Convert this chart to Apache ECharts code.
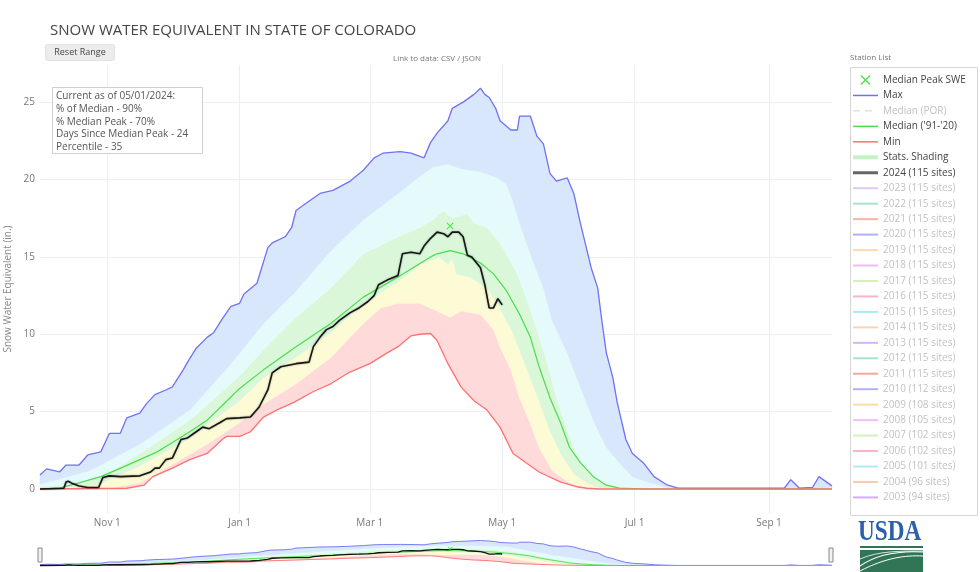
<!DOCTYPE html>
<html><head><meta charset="utf-8">
<script src="https://cdn.jsdelivr.net/npm/echarts@6/dist/echarts.min.js"></script>
<style>html,body{margin:0;padding:0;background:#fff}#c{width:980px;height:572px}</style>
</head><body><div id="c"></div>
<script>
// ---- axis ticks ----
const xTickDays = [31, 92, 152, 213, 274, 336];
const xTickLabels = ['Nov 1', 'Jan 1', 'Mar 1', 'May 1', 'Jul 1', 'Sep 1'];
const yTicks = [0, 5, 10, 15, 20, 25];

// ---- statistics (day index from Oct 1, SWE in inches) ----
const maxDays = [0,3,9,12,18,22,28,32,37,40,46,49,53,58,61,66,68,72,77,80,84,88,92,94,100,105,107,113,116,118,121,129,135,143,149,154,158,166,171,177,180,183,188,190,195,200,203,205,207,210,212,217,220,221,226,229,232,235,238,243,246,249,254,257,259,261,264,266,270,273,278,283,289,294,343,346,350,356,359,364,365];
const maxVals = [0.9,1.3,1.1,1.55,1.55,2.2,2.4,3.6,3.6,4.6,4.9,5.5,6.1,6.4,6.6,7.7,8.2,9.1,9.8,10.1,11.0,11.8,12.0,12.6,13.3,15.6,15.9,16.3,16.9,18.0,18.3,19.1,19.3,19.9,20.6,21.4,21.7,21.8,21.7,21.4,22.4,23.0,23.8,24.6,25.0,25.5,25.9,25.5,25.3,24.6,23.8,23.2,23.2,24.1,24.1,22.8,22.3,20.4,19.9,20.1,19.1,17.2,14.3,13.0,10.8,8.8,7.2,5.6,3.2,2.3,1.7,0.8,0.26,0.05,0.05,0.6,0.05,0.1,0.8,0.3,0.2];

const minDays = [0,40,48,52,61,69,77,84,86,92,97,103,109,117,126,134,142,152,160,165,171,175,180,183,188,194,200,206,212,218,224,230,240,248,252,258,365];
const minVals = [0,0.05,0.25,0.8,1.35,1.9,2.3,3.2,3.4,3.4,3.7,4.65,5.1,5.6,6.3,6.8,7.5,8.1,8.8,9.2,9.9,10.0,10.05,9.6,8.1,6.6,5.7,5.1,4.0,2.3,1.7,1.1,0.45,0.13,0.05,0,0];

const medDays = [0,9,18,28,38,46,54,61,69,77,84,92,103,118,134,149,165,180,183,189,195,203,209,215,221,226,230,235,240,244,249,255,261,267,280,365];
const medVals = [0,0.06,0.4,0.8,1.4,1.9,2.4,3.0,3.7,4.45,5.4,6.5,7.7,9.2,10.7,12.4,13.7,15.0,15.2,15.4,15.2,14.6,13.9,12.8,11.3,9.8,7.9,5.9,4.25,2.7,1.7,0.8,0.25,0.06,0,0];

const p10Days = [0,31,46,61,77,92,103,118,134,149,157,165,175,183,189,194,203,209,212,217,221,226,230,236,244,252,260,365];
const p10Vals = [0,0.05,0.4,1.6,2.9,4.3,5.5,6.8,8.5,10.7,11.7,12.0,12.0,11.5,11.1,11.5,11.3,10.3,9.2,7.7,5.9,4.25,2.7,1.2,0.4,0.05,0,0];

const p30Days = [0,27,46,69,92,103,118,134,149,165,175,184,188,190,192,198,206,212,218,224,230,235,240,246,252,258,265,365];
const p30Vals = [0,0.3,1.5,3.3,5.7,7.2,8.5,10.1,12.0,13.4,14.5,15.0,14.5,14.9,13.9,13.7,13.0,11.7,10.1,7.9,5.7,3.8,2.3,1.0,0.4,0.05,0,0];

const p70Days = [0,9,18,31,46,69,92,103,118,134,149,165,175,181,186,190,197,200,206,211,215,220,224,229,234,238,243,247,253,259,267,280,365];
const p70Vals = [0,0.1,0.3,1.0,2.3,4.45,7.3,9.0,11.1,13.0,15.2,16.3,16.9,17.4,18.0,17.5,17.8,17.2,16.9,16.1,15.2,13.9,12.4,10.3,8.1,5.9,3.8,2.3,1.1,0.45,0.13,0,0];

const p90Days = [0,23,46,69,88,103,118,134,149,165,174,181,188,194,203,211,215,218,221,227,232,236,243,249,255,261,267,273,281,289,300,365];
const p90Vals = [0.3,1.2,2.9,5.1,8.1,10.7,12.8,15.4,17.4,19.1,20.1,20.8,21.0,20.7,20.5,20.1,19.7,18.6,17.2,14.8,13.0,10.9,8.8,6.6,4.45,2.7,1.7,0.8,0.4,0.1,0,0];

// ---- water year 2024 ----
const wy24Days = [0,11,12,13,15,18,22,27,29,32,37,46,51,53,55,58,61,65,68,72,75,78,83,86,92,97,101,105,107,111,118,124,126,129,132,135,138,143,147,151,154,156,160,165,167,171,175,177,180,183,186,188,190,193,195,197,199,203,205,207,209,211,213];
const wy24Vals = [0,0.05,0.45,0.5,0.35,0.2,0.1,0.1,0.75,0.85,0.8,0.85,1.1,1.35,1.35,1.9,2.0,3.2,3.3,3.7,4.0,3.9,4.3,4.55,4.6,4.65,5.3,6.4,7.5,7.9,8.1,8.2,9.2,9.8,10.3,10.5,10.9,11.4,11.7,12.1,12.5,13.2,13.5,13.8,15.2,15.3,15.2,15.7,16.2,16.6,16.5,16.3,16.6,16.6,16.3,15.1,15.0,14.3,13.2,11.7,11.7,12.3,11.9];

const peakDays = [189];
const peakVals = [17.0];

// ---- legend entries for other years ----
const yearNames = ['2023 (115 sites)','2022 (115 sites)','2021 (115 sites)','2020 (115 sites)','2019 (115 sites)','2018 (115 sites)','2017 (115 sites)','2016 (115 sites)','2015 (115 sites)','2014 (115 sites)','2013 (115 sites)','2012 (115 sites)','2011 (115 sites)','2010 (112 sites)','2009 (108 sites)','2008 (105 sites)','2007 (102 sites)','2006 (102 sites)','2005 (101 sites)','2004 (96 sites)','2003 (94 sites)'];
const yearColors = ['#dcc8fa','#a8e2d2','#f8b4a6','#b0b0fa','#fadca6','#f4b8f4','#d2f2b8','#fab4c8','#a8eaf8','#fad2b4','#d2b4fa','#a8e4c6','#f8a898','#b0b0fa','#fadca6','#f4bcf4','#d4f2bc','#fab4c4','#acecf8','#facaac','#d4acfa'];

const pts = (d, v) => d.map((x, i) => [x, v[i]]);
const bands = [
  {lo: pts(minDays, minVals), hi: pts(p10Days, p10Vals), color: '#ffdada'},
  {lo: pts(p10Days, p10Vals), hi: pts(p30Days, p30Vals), color: '#fdfad6'},
  {lo: pts(p30Days, p30Vals), hi: pts(p70Days, p70Vals), color: '#daf7da'},
  {lo: pts(p70Days, p70Vals), hi: pts(p90Days, p90Vals), color: '#e5fbfb'},
  {lo: pts(p90Days, p90Vals), hi: pts(maxDays, maxVals), color: '#d8e7fb'}
];

const X_PATH = 'path://M1,0 L5,4 L9,0 L10,1 L6,5 L10,9 L9,10 L5,6 L1,10 L0,9 L4,5 L0,1 Z';
// legend line icons (box 25x10, line centred)
const lineIcon = t => 'path://M0,0 M25,10 M0,' + (5 - t / 2) + ' L25,' + (5 - t / 2) + ' L25,' + (5 + t / 2) + ' L0,' + (5 + t / 2) + ' Z';
const DASH_ICON = 'path://M0,0 M25,10 M0,4.3 L7,4.3 L7,5.7 L0,5.7 Z M12,4.3 L19,4.3 L19,5.7 L12,5.7 Z';

function bandSeries(idx) {
  return {
    type: 'custom', xAxisIndex: idx, yAxisIndex: idx, silent: true, z: 1,
    data: bands.map((b, i) => [i, 0]), encode: {x: 0, y: 1},
    renderItem: (params, api) => {
      const b = bands[params.dataIndex];
      const p = b.hi.map(q => api.coord(q)).concat(b.lo.slice().reverse().map(q => api.coord(q)));
      return {type: 'polygon', shape: {points: p}, style: {fill: b.color, stroke: b.color, lineWidth: 0.6}};
    }
  };
}
function lineSeries(name, d, v, color, width, idx, extra) {
  return Object.assign({
    type: 'line', name: name, xAxisIndex: idx, yAxisIndex: idx, data: pts(d, v),
    symbol: 'none', showSymbol: false, z: 3, color: color,
    lineStyle: {color: color, width: width}
  }, extra || {});
}

const series = [
  bandSeries(0),
  {type: 'scatter', name: 'Median Peak SWE', data: pts(peakDays, peakVals), symbol: X_PATH, symbolSize: 7, color: '#22dd22', z: 6},
  lineSeries('Max', maxDays, maxVals, '#7272f2', 1.3, 0),
  lineSeries('Median (POR)', [], [], '#c4ecc4', 1.3, 0, {lineStyle: {color: '#c4ecc4', width: 1.3, type: [5, 5]}}),
  lineSeries("Median ('91-'20)", medDays, medVals, '#4ddc4d', 1.2, 0),
  lineSeries('Min', minDays, minVals, '#ff7272', 1.3, 0),
  lineSeries('Stats. Shading', [], [], '#c4f2c4', 4, 0),
  lineSeries('2024 (115 sites)', wy24Days, wy24Vals, '#151515', 1.6, 0, {z: 5, lineStyle: {color: '#151515', width: 1.6, shadowColor: 'rgba(0,0,0,0.35)', shadowBlur: 2}}),
  // mini range-slider chart
  bandSeries(1),
  lineSeries('', maxDays, maxVals, '#7272f2', 0.9, 1),
  lineSeries('', medDays, medVals, '#4ddc4d', 0.9, 1),
  lineSeries('', minDays, minVals, '#ff7272', 0.9, 1),
  lineSeries('', wy24Days, wy24Vals, '#111', 1.3, 1),
  {type: 'scatter', xAxisIndex: 1, yAxisIndex: 1, data: pts(peakDays, peakVals), symbol: X_PATH, symbolSize: 5, color: '#22dd22', z: 6}
];
yearNames.forEach((n, i) => series.push(lineSeries(n, [], [], yearColors[i], 1.5, 0)));

const grayTxt = {color: '#c2c2c2'};
const legendData = [
  {name: 'Median Peak SWE', icon: X_PATH},
  {name: 'Max', icon: lineIcon(1.5)},
  {name: 'Median (POR)', icon: DASH_ICON, textStyle: grayTxt},
  {name: "Median ('91-'20)", icon: lineIcon(1.5)},
  {name: 'Min', icon: lineIcon(1.5)},
  {name: 'Stats. Shading', icon: lineIcon(4)},
  {name: '2024 (115 sites)', icon: lineIcon(3), itemStyle: {color: '#666'}}
].concat(yearNames.map(n => ({name: n, icon: lineIcon(2), textStyle: grayTxt})));

const chart = echarts.init(document.getElementById('c'), null, {renderer: 'canvas'});
chart.setOption({
  animation: false,
  textStyle: {fontFamily: 'Open Sans'},
  title: {text: 'SNOW WATER EQUIVALENT IN STATE OF COLORADO', left: 45, top: 18,
    textStyle: {fontSize: 15, fontWeight: 'normal', color: '#444', fontFamily: 'Open Sans'}},
  grid: [
    {left: 40, right: 148, top: 65, bottom: 59, outerBoundsMode: 'none', containLabel: false},
    {left: 40, right: 148, top: 539, height: 28, outerBoundsMode: 'none', containLabel: false}
  ],
  xAxis: [
    {type: 'value', gridIndex: 0, min: 0, max: 365,
      axisLine: {show: false}, axisTick: {show: false, customValues: xTickDays},
      axisLabel: {customValues: xTickDays, formatter: v => xTickLabels[xTickDays.indexOf(v)], color: '#777', fontSize: 10, margin: 5},
      splitLine: {show: true, lineStyle: {color: '#eceef5', width: 1}}},
    {type: 'value', gridIndex: 1, min: 0, max: 365, show: false, splitLine: {show: false}}
  ],
  yAxis: [
    {type: 'value', gridIndex: 0, min: -1.55, max: 27.4,
      axisLine: {show: false}, axisTick: {show: false, customValues: yTicks},
      axisLabel: {customValues: yTicks, color: '#777', fontSize: 10, margin: 5},
      splitLine: {show: true, lineStyle: {color: '#eceef5', width: 1}},
      name: 'Snow Water Equivalent (in.)', nameLocation: 'middle', nameGap: 26,
      nameTextStyle: {color: '#888', fontSize: 10}},
    {type: 'value', gridIndex: 1, min: -1.55, max: 27.4, show: false, splitLine: {show: false}}
  ],
  legend: {
    orient: 'vertical', left: 848, top: 65, padding: [10, 5, 5, 5],
    itemWidth: 25, itemHeight: 10, itemGap: 5.46, selectedMode: false,
    textStyle: {fontSize: 10, color: '#444', fontFamily: 'Open Sans'},
    data: legendData
  },
  graphic: [
    {type: 'rect', left: 848, top: 65, shape: {width: 127, height: 448}, style: {fill: 'none', stroke: '#d6d6d6', lineWidth: 1}, z: 10, silent: true},
    {type: 'text', left: 850, top: 54, style: {text: 'Station List', fontSize: 8, fill: '#777', fontFamily: 'Open Sans'}},
    {type: 'text', x: 437, y: 59, style: {text: 'Link to data: CSV / JSON', fontSize: 8, fill: '#777', align: 'center', verticalAlign: 'middle', fontFamily: 'Open Sans'}},
    {type: 'group', left: 45, top: 44, children: [
      {type: 'rect', shape: {x: 0, y: 0, width: 69, height: 16, r: 2}, style: {fill: '#ececec', stroke: '#e2e2e2'}},
      {type: 'text', x: 34.5, y: 8, style: {text: 'Reset Range', fontSize: 9, fill: '#444', align: 'center', verticalAlign: 'middle', fontFamily: 'Open Sans'}}
    ]},
    {type: 'rect', z: 100, shape: {x: 52.5, y: 87.5, width: 150, height: 66}, style: {fill: '#ffffff', stroke: '#cfcfcf', lineWidth: 1}},
    {type: 'text', z: 101, x: 56, y: 90, style: {text: 'Current as of 05/01/2024:\n% of Median - 90%\n% Median Peak - 70%\nDays Since Median Peak - 24\nPercentile - 35', fontSize: 10, lineHeight: 12.7, fill: '#555', fontFamily: 'Open Sans'}},
    // range slider handles
    {type: 'rect', shape: {x: 38, y: 548, width: 4, height: 14}, style: {fill: '#f2f2f2', stroke: '#888', lineWidth: 1}},
    {type: 'rect', shape: {x: 829, y: 548, width: 4, height: 14}, style: {fill: '#f2f2f2', stroke: '#888', lineWidth: 1}},
    // USDA logo
    {type: 'text', x: 858, y: 518, scaleX: 0.8, style: {text: 'USDA', fontSize: 29, fontWeight: 'bold', fill: '#2c60ab', fontFamily: 'Liberation Serif'}},
    {type: 'rect', shape: {x: 860, y: 546, width: 63, height: 2}, style: {fill: '#2f7556'}},
    {type: 'rect', shape: {x: 860, y: 550, width: 63, height: 22}, style: {fill: '#2f7556'}},
    {type: 'bezierCurve', shape: {x1: 860, y1: 566, x2: 923, y2: 552, cpx1: 880, cpy1: 552, cpx2: 905, cpy2: 551}, style: {stroke: '#fff', lineWidth: 1.2, fill: 'none'}},
    {type: 'bezierCurve', shape: {x1: 860, y1: 571, x2: 923, y2: 556, cpx1: 885, cpy1: 558, cpx2: 905, cpy2: 555}, style: {stroke: '#fff', lineWidth: 1, fill: 'none'}},
    {type: 'bezierCurve', shape: {x1: 860, y1: 559, x2: 923, y2: 551, cpx1: 878, cpy1: 551, cpx2: 900, cpy2: 551}, style: {stroke: '#fff', lineWidth: 0.8, fill: 'none'}}
  ],
  series: series
});
</script>
</body></html>
